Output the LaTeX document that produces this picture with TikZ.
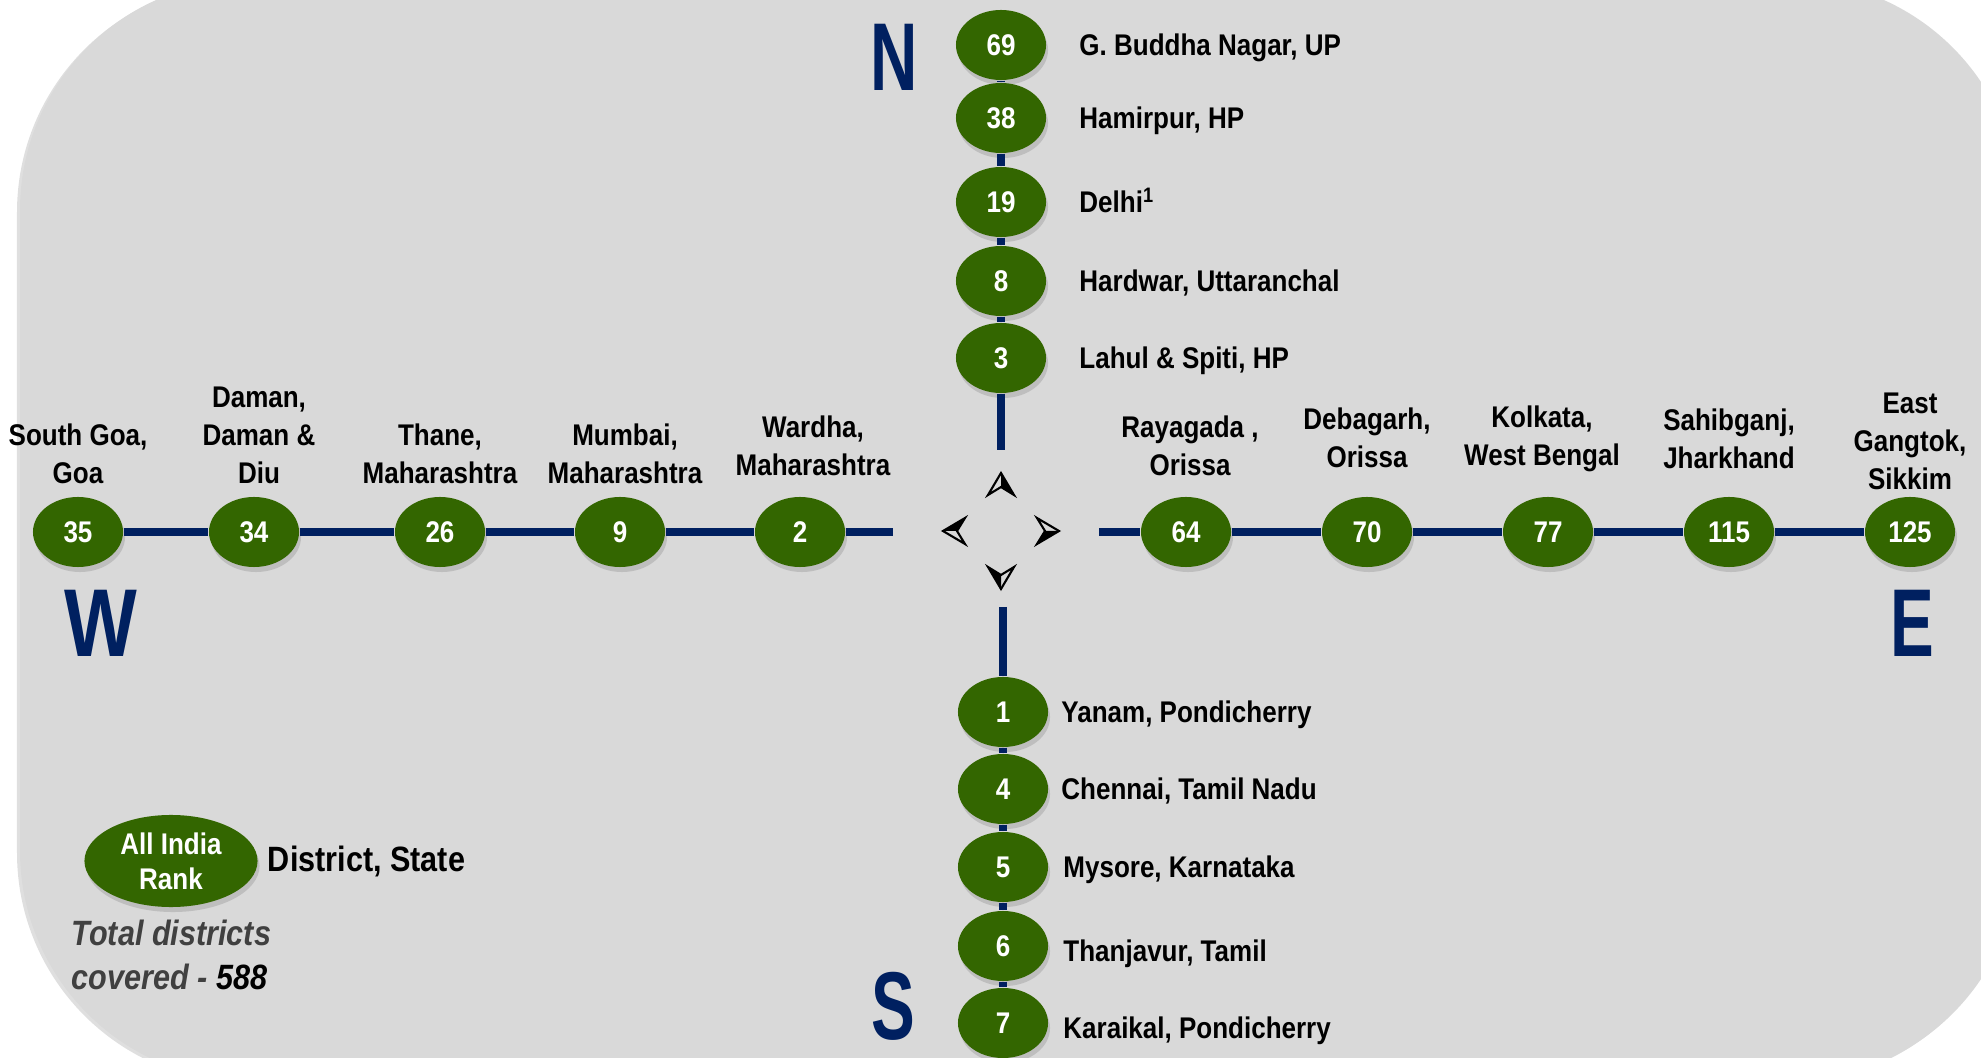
\documentclass[tikz,border=0pt]{standalone}
\usepackage{fontspec}
\setmainfont[FakeStretch=0.87]{Liberation Sans}
\newfontfamily\dirfont[FakeStretch=0.68]{Liberation Sans}
\newfontfamily\widedirfont[FakeStretch=0.8]{Liberation Sans}
\usetikzlibrary{positioning,shapes.geometric,shadows}
\definecolor{panel}{HTML}{D9D9D9}
\definecolor{rankgreen}{HTML}{336600}
\definecolor{navy}{HTML}{002060}
\definecolor{notegray}{HTML}{404040}

\begin{document}
\begin{tikzpicture}
		[x=0.01cm, y=-0.01cm,
		rank/.style={ellipse, fill=rankgreen, minimum width=0.9cm, minimum height=0.7cm,
			inner sep=0pt, text=white, font=\fontsize{8.5}{10}\selectfont\bfseries,
			drop shadow={shadow xshift=0.02cm, shadow yshift=-0.05cm, opacity=0.3}},
		place/.style={inner sep=0pt, align=center, font=\fontsize{8.5}{10.8}\selectfont\bfseries},
		side/.style={inner sep=0pt, text height=6.1pt, text depth=0pt,
			font=\fontsize{8.5}{10.8}\selectfont\bfseries},
		axis/.style={navy, line width=0.08cm},
		dir/.style={navy, inner sep=0pt, font=\fontsize{27.4}{30}\selectfont\dirfont\bfseries},
		compass/.style={black, line width=0.6pt, line join=miter},
		]
		\useasboundingbox (0,0) rectangle (1981,1058);
		\fill[panel, rounded corners=2.3cm,
			drop shadow={shadow xshift=-0.03cm, shadow yshift=-0.02cm, opacity=0.25}]
			(20,-20) rectangle (2020,1081);
		
		\node[rank] (r69) at (1001,45) {69};
		\node[rank] (r38) at (1001,118) {38};
		\node[rank] (r19) at (1001,202) {19};
		\node[rank] (r8) at (1001,281) {8};
		\node[rank] (r3) at (1001,358) {3};
		\coordinate (ntip) at (1001,450);
		\node[side, right=0.32cm of r69] (gbn) {G. Buddha Nagar, UP};
		\node[side, right=0.32cm of r38] (hamirpur) {Hamirpur, HP};
		\node[side, right=0.32cm of r19] (delhi) {Delhi\textsuperscript{1}};
		\node[side, right=0.32cm of r8] (hardwar) {Hardwar, Uttaranchal};
		\node[side, right=0.32cm of r3] (lahul) {Lahul \& Spiti, HP};
		
		\node[rank] (r35) at (78,532) {35};
		\node[rank] (r34) at (254,532) {34};
		\node[rank] (r26) at (440,532) {26};
		\node[rank] (r9) at (620,532) {9};
		\node[rank] (r2) at (800,532) {2};
		\coordinate (wtip) at (893,532);
		\node[place, above=0.12cm of r35] (sgoa) {South Goa,\\Goa};
		\node[place, above=0.12cm of r34, xshift=0.05cm] (daman) {Daman,\\Daman \&\\Diu};
		\node[place, above=0.12cm of r26] (thane) {Thane,\\Maharashtra};
		\node[place, above=0.12cm of r9, xshift=0.05cm] (mumbai) {Mumbai,\\Maharashtra};
		\node[place, above=0.2cm of r2, xshift=0.13cm] (wardha) {Wardha,\\Maharashtra};
		
		\coordinate (etip) at (1099,532);
		\node[rank] (r64) at (1186,532) {64};
		\node[rank] (r70) at (1367,532) {70};
		\node[rank] (r77) at (1548,532) {77};
		\node[rank] (r115) at (1729,532) {115};
		\node[rank] (r125) at (1910,532) {125};
		\node[place, above=0.2cm of r64, xshift=0.04cm] (rayagada) {Rayagada ,\\Orissa};
		\node[place, above=0.28cm of r70] (debagarh) {Debagarh,\\Orissa};
		\node[place, above=0.24cm of r77, xshift=-0.06cm] (kolkata) {Kolkata,\\West Bengal};
		\node[place, above=0.27cm of r115] (sahibganj) {Sahibganj,\\Jharkhand};
		\node[place, above=0.06cm of r125] (gangtok) {East\\Gangtok,\\Sikkim};
		
		\coordinate (stip) at (1003,607);
		\node[rank] (r1) at (1003,712) {1};
		\node[rank] (r4) at (1003,789) {4};
		\node[rank] (r5) at (1003,867) {5};
		\node[rank] (r6) at (1003,946) {6};
		\node[rank] (r7) at (1003,1023) {7};
		\node[side, right=0.12cm of r1] (yanam) {Yanam, Pondicherry};
		\node[side, right=0.12cm of r4] (chennai) {Chennai, Tamil Nadu};
		\node[side, right=0.14cm of r5] (mysore) {Mysore, Karnataka};
		\node[side, right=0.14cm of r6, yshift=-0.05cm] (thanjavur) {Thanjavur, Tamil};
		\node[side, right=0.14cm of r7, yshift=-0.05cm] (karaikal) {Karaikal, Pondicherry};
		
		\draw[axis] (r69) -- (r38) -- (r19) -- (r8) -- (r3) -- (ntip);
		\draw[axis] (r35) -- (r34) -- (r26) -- (r9) -- (r2) -- (wtip);
		\draw[axis] (etip) -- (r64) -- (r70) -- (r77) -- (r115) -- (r125);
		\draw[axis] (stip) -- (r1) -- (r4) -- (r5) -- (r6) -- (r7);
		
		\node[dir] (north) at (894,57) {N};
		\node[dir, font=\fontsize{27.4}{30}\selectfont\widedirfont\bfseries] (west) at (101,623) {W};
		\node[dir] (east) at (1912,623) {E};
		\node[dir] (south) at (893,1006) {S};
		
		\coordinate (hub) at (1001,531);
		\begin{scope}[shift={(hub)}]
			\fill[compass] (0,-58) -- (0,-44) -- (13,-36) -- cycle;
			\draw[compass] (0,-58) -- (-13,-36) -- (0,-44) -- (13,-36) -- cycle;
		\end{scope}
		\begin{scope}[shift={(hub)}, rotate=-90]
			\fill[compass] (0,-58) -- (0,-44) -- (13,-36) -- cycle;
			\draw[compass] (0,-58) -- (-13,-36) -- (0,-44) -- (13,-36) -- cycle;
		\end{scope}
		\begin{scope}[shift={(hub)}, rotate=-180]
			\fill[compass] (0,-58) -- (0,-44) -- (13,-36) -- cycle;
			\draw[compass] (0,-58) -- (-13,-36) -- (0,-44) -- (13,-36) -- cycle;
		\end{scope}
		\begin{scope}[shift={(hub)}, rotate=-270]
			\fill[compass] (0,-58) -- (0,-44) -- (13,-36) -- cycle;
			\draw[compass] (0,-58) -- (-13,-36) -- (0,-44) -- (13,-36) -- cycle;
		\end{scope}
		
		\node[rank, minimum width=1.73cm, minimum height=0.92cm, align=center] (legend) at (171,861) {All India\\Rank};
		\node[right=0.09cm of legend, inner sep=0pt, font=\fontsize{10}{12}\selectfont\bfseries] (key) {District, State};
		\node[anchor=west, inner sep=0pt, align=left, text=notegray,
			font=\fontsize{10}{12.5}\selectfont\bfseries\itshape] (total) at (71,955) {Total districts\\covered - \textcolor{black}{588}};
	\end{tikzpicture}
\end{document}
